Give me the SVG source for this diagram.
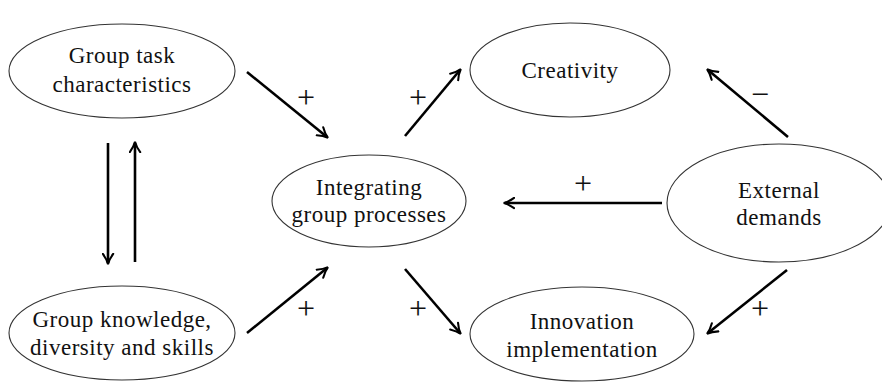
<svg xmlns="http://www.w3.org/2000/svg" width="882" height="392" viewBox="0 0 882 392">
<style>
.node ellipse{fill:#fff;stroke:#333;stroke-width:1.1}
.node text{font-family:"Liberation Serif","DejaVu Serif",serif;font-size:23px;letter-spacing:0.5px;fill:#111;text-anchor:middle}
.lbl{font-family:"Liberation Serif","DejaVu Serif",serif;font-size:32px;fill:#111;text-anchor:middle}
.conn line{stroke:#000;stroke-width:2.6;marker-end:url(#ah)}
</style>
<defs>
<marker id="ah" viewBox="0 0 10 10" refX="8" refY="5" markerWidth="5" markerHeight="5" orient="auto" markerUnits="strokeWidth">
<path d="M1,1 Q5,4 9,5 Q5,6 1,9" fill="none" stroke="#000" stroke-width="1.6" stroke-linecap="round"/>
</marker>
</defs>
<rect width="882" height="392" fill="#fff"/>
<g id="n-task" class="node"><ellipse cx="122" cy="71" rx="113" ry="47"/><text x="122" y="63">Group task</text><text x="122" y="92">characteristics</text></g>
<g id="n-knowledge" class="node"><ellipse cx="122" cy="333" rx="113" ry="47"/><text x="122" y="327">Group knowledge,</text><text x="122" y="355">diversity and skills</text></g>
<g id="n-integrating" class="node"><ellipse cx="369" cy="201" rx="97" ry="46"/><text x="369" y="195">Integrating</text><text x="369" y="222">group processes</text></g>
<g id="n-creativity" class="node"><ellipse cx="570" cy="70" rx="100" ry="47"/><text x="570" y="78">Creativity</text></g>
<g id="n-external" class="node"><ellipse cx="779" cy="203" rx="112" ry="59"/><text x="779" y="198">External</text><text x="779" y="225">demands</text></g>
<g id="n-innovation" class="node"><ellipse cx="582" cy="334" rx="112" ry="47"/><text x="582" y="329">Innovation</text><text x="582" y="357">implementation</text></g>
<g id="connectors" class="conn">
<line x1="247" y1="72" x2="327" y2="137"/>
<line x1="405" y1="136" x2="460" y2="70"/>
<line x1="247" y1="333" x2="327" y2="268"/>
<line x1="405" y1="269" x2="460" y2="333"/>
<line x1="788" y1="137" x2="708" y2="70"/>
<line x1="662" y1="203" x2="505" y2="203"/>
<line x1="787" y1="270" x2="708" y2="333"/>
<line x1="108" y1="143" x2="108" y2="263"/>
<line x1="135" y1="262" x2="135" y2="143"/>
</g>
<g id="labels">
<text class="lbl" x="306" y="108">+</text>
<text class="lbl" x="418" y="108">+</text>
<text class="lbl" x="306" y="319">+</text>
<text class="lbl" x="418" y="319">+</text>
<text class="lbl" x="760" y="105">−</text>
<text class="lbl" x="583" y="194">+</text>
<text class="lbl" x="760" y="319">+</text>
</g>
</svg>
